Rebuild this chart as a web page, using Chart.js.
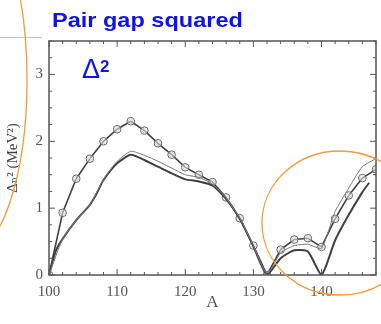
<!DOCTYPE html>
<html>
<head>
<meta charset="utf-8">
<script src="https://cdn.jsdelivr.net/npm/chart.js@4/dist/chart.umd.min.js"></script>
<style>
  html, body { margin: 0; padding: 0; background: #fff; }
  #wrap { position: relative; width: 381px; height: 324px; overflow: hidden; }
  #gapChart { position: absolute; left: 0; top: 0; filter: blur(0.45px); }
  .heading {
    position: absolute; left: 52px; top: 9px;
    font: bold 21px "Liberation Sans", Arial, sans-serif; line-height: 21px;
    color: #1010f0; white-space: nowrap;
    transform: scaleX(1.12); transform-origin: left top;
  }
  .delta {
    position: absolute; left: 82px; top: 56px;
    font: 27px "Liberation Sans", Arial, sans-serif; line-height: 27px;
    color: #1010f0; white-space: nowrap;
  }
  .delta sup { font-size: 17px; font-weight: bold; position: relative; top: -3px; vertical-align: top; }
</style>
</head>
<body>
<div id="wrap">
  <canvas id="gapChart" width="381" height="324"></canvas>
  <div class="heading">Pair gap squared</div>
  <div class="delta">&Delta;<sup>2</sup></div>
</div>
<script>
// Mass numbers and squared gaps (MeV^2)
const markerA = [100, 102, 104, 106, 108, 110, 112, 114, 116, 118, 120, 122, 124,
  126, 128, 130, 132, 134, 136, 138, 140, 142, 144, 146, 148];
const markerGap = [0, 0.93, 1.44, 1.74, 2.0, 2.18, 2.30, 2.16, 1.97, 1.80, 1.61, 1.50, 1.39,
  1.16, 0.85, 0.44, 0.0, 0.38, 0.53, 0.55, 0.42, 0.84, 1.19, 1.45, 1.58];

const thickA = [100, 101, 102, 104, 106, 107, 108, 110, 112, 114, 116, 118, 120, 122,
  124, 126, 128, 130, 132, 134, 136, 138, 140, 142, 144, 146, 147];
const thickGap = [0, 0.36, 0.54, 0.82, 1.05, 1.22, 1.42, 1.67, 1.80, 1.72, 1.62, 1.52, 1.43, 1.40,
  1.34, 1.14, 0.84, 0.43, 0.0, 0.25, 0.37, 0.35, 0.0, 0.52, 0.90, 1.24, 1.38];

const thinA = [100, 102, 104, 106, 108, 110, 112, 114, 116, 118, 120, 122, 124,
  126, 128, 130, 132, 134, 136, 138, 140, 142, 144, 146, 148];
const thinGap = [0, 0.54, 0.82, 1.05, 1.43, 1.70, 1.85, 1.79, 1.70, 1.60, 1.50, 1.46, 1.36,
  1.15, 0.85, 0.44, 0.02, 0.33, 0.44, 0.46, 0.40, 0.95, 1.30, 1.62, 1.74];

const xTickValues = [100, 110, 120, 130, 140];
const yTickValues = [0, 1, 2, 3];

const toPoints = (xs, ys) => xs.map((x, i) => ({ x: x, y: ys[i] }));

const ink = '#404040';
const serif = "'Liberation Serif', 'DejaVu Serif', serif";

// Box frame with inward ticks, plus slide decorations
const framePlugin = {
  id: 'frame',
  afterDatasetsDraw(chart) {
    const { ctx, chartArea: a, scales: { x, y } } = chart;
    ctx.save();
    ctx.strokeStyle = '#555';
    ctx.lineWidth = 1.5;
    ctx.strokeRect(a.left, a.top, a.right - a.left, a.bottom - a.top);

    ctx.lineWidth = 1;
    for (let v = 100; v <= 148; v += 2) {
      const px = x.getPixelForValue(v);
      const len = v % 10 === 0 ? 6 : 3;
      ctx.beginPath();
      ctx.moveTo(px, a.bottom); ctx.lineTo(px, a.bottom - len);
      ctx.moveTo(px, a.top); ctx.lineTo(px, a.top + len);
      ctx.stroke();
    }
    for (let v = 0; v <= 3.5; v += 0.25) {
      const py = y.getPixelForValue(v);
      const len = v % 1 === 0 ? 6 : 3;
      ctx.beginPath();
      ctx.moveTo(a.left, py); ctx.lineTo(a.left + len, py);
      ctx.moveTo(a.right, py); ctx.lineTo(a.right - len, py);
      ctx.stroke();
    }
    ctx.restore();
  },
  afterDraw(chart) {
    const { ctx } = chart;
    ctx.save();
    // grey rule at the top left
    ctx.strokeStyle = '#c4c4c4';
    ctx.lineWidth = 1;
    ctx.beginPath();
    ctx.moveTo(0, 37.5); ctx.lineTo(42, 37.5);
    ctx.stroke();
    // orange highlight ellipses
    ctx.strokeStyle = '#f39a3a';
    ctx.lineWidth = 1.3;
    ctx.beginPath();
    ctx.ellipse(-33, 80, 60, 175, 0, 0, Math.PI * 2);
    ctx.stroke();
    ctx.beginPath();
    ctx.ellipse(340, 223, 78, 72, 0, 0, Math.PI * 2);
    ctx.stroke();
    ctx.restore();
  }
};

new Chart(document.getElementById('gapChart'), {
  type: 'line',
  data: {
    datasets: [
      {
        label: 'thin',
        data: toPoints(thinA, thinGap),
        borderColor: '#7a7a7a',
        borderWidth: 1,
        pointRadius: 0,
        tension: 0.2
      },
      {
        label: 'thick',
        data: toPoints(thickA, thickGap),
        borderColor: ink,
        borderWidth: 2,
        pointRadius: 0,
        tension: 0.2
      },
      {
        label: 'markers',
        data: toPoints(markerA, markerGap),
        borderColor: ink,
        borderWidth: 1.6,
        pointStyle: 'circle',
        pointRadius: 3.8,
        pointBorderWidth: 1,
        pointBorderColor: '#666',
        pointBackgroundColor: 'rgba(255,255,255,0.5)',
        tension: 0
      },
      {
        label: 'diamonds',
        data: toPoints(markerA, markerGap),
        showLine: false,
        pointStyle: 'rectRot',
        pointRadius: 2.8,
        pointBorderWidth: 0.8,
        pointBorderColor: '#888',
        pointBackgroundColor: 'transparent'
      }
    ]
  },
  options: {
    responsive: false,
    devicePixelRatio: 1,
    animation: false,
    layout: { padding: { top: 41, right: 4, left: 0, bottom: 0 } },
    plugins: {
      legend: { display: false },
      tooltip: { enabled: false },
      title: { display: false }
    },
    scales: {
      x: {
        type: 'linear',
        min: 100,
        max: 148,
        afterFit: s => { s.height = 49; },
        afterBuildTicks: s => { s.ticks = xTickValues.map(v => ({ value: v })); },
        grid: { display: false, drawTicks: false },
        border: { display: false },
        ticks: {
          color: '#555',
          padding: 8,
          font: { family: serif, size: 15 }
        },
        title: {
          display: true,
          text: 'A',
          color: '#555',
          padding: { top: 0, bottom: 11 },
          font: { family: serif, size: 17 }
        }
      },
      y: {
        min: 0,
        max: 3.5,
        afterFit: s => { s.width = 49; },
        afterBuildTicks: s => { s.ticks = yTickValues.map(v => ({ value: v })); },
        grid: { display: false, drawTicks: false },
        border: { display: false },
        ticks: {
          color: '#555',
          padding: 6,
          font: { family: serif, size: 15 }
        },
        title: {
          display: true,
          text: 'Δₙ² (MeV²)',
          color: '#444',
          padding: { top: 4, bottom: 0 },
          font: { family: serif, size: 15 }
        }
      }
    }
  },
  plugins: [framePlugin]
});
</script>
</body>
</html>
